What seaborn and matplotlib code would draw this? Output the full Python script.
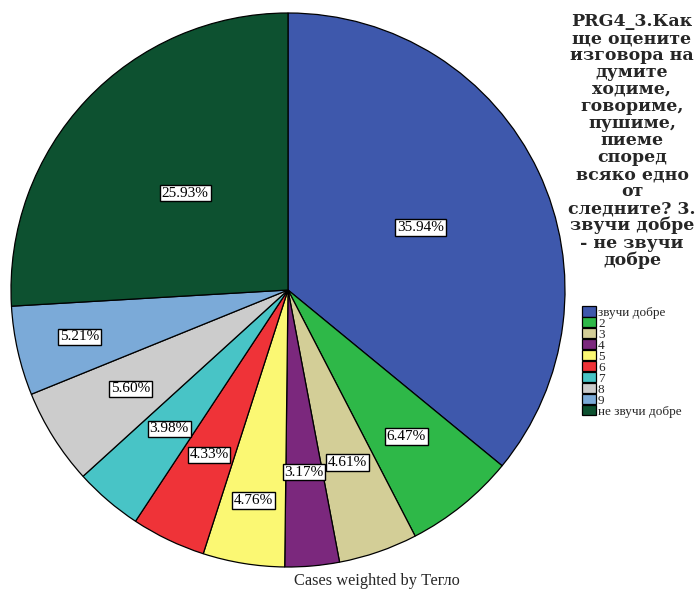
import numpy as np
import matplotlib
matplotlib.use("Agg")
import matplotlib.pyplot as plt
import seaborn as sns

categories = ["звучи добре", "2", "3", "4", "5", "6", "7", "8", "9", "не звучи добре"]
values = [35.94, 6.47, 4.61, 3.17, 4.76, 4.33, 3.98, 5.60, 5.21, 25.93]
colors = ["#3E58AC", "#2EB848", "#D3CE97", "#7B287D", "#FBF873",
          "#EF3338", "#48C4C6", "#CCCCCC", "#7BAAD8", "#0D5130"]
label_radius = [0.53, 0.68, 0.66, 0.66, 0.77, 0.66, 0.66, 0.67, 0.77, 0.51]

title = ("PRG4_3.Как\nще оцените\nизговора на\nдумите\nходиме,\nговориме,\n"
         "пушиме,\nпиеме\nспоред\nвсяко едно\nот\nследните? 3.\nзвучи добре\n- не звучи\nдобре")
footer = "Cases weighted by Тегло"

sns.set_theme(style="white")
plt.rcParams["font.family"] = ["Liberation Serif", "DejaVu Serif"]

W, H = 695, 589
fig = plt.figure(figsize=(W / 100, H / 100), dpi=100)
cx, cy, r = 288, 290, 277
ax = fig.add_axes([(cx - r) / W, (H - cy - r) / H, 2 * r / W, 2 * r / H])

palette = sns.color_palette(colors)
wedges, _ = ax.pie(values, colors=palette, startangle=90, counterclock=False,
                   radius=1.0, wedgeprops=dict(edgecolor="black", linewidth=0.9))
ax.set_xlim(-1, 1)
ax.set_ylim(-1, 1)
ax.set_aspect("equal")
ax.axis("off")

total = sum(values)
cum = 0.0
for v, lr in zip(values, label_radius):
    mid = 90 - 360 * (cum + v / 2) / total
    cum += v
    th = np.deg2rad(mid)
    ax.text(lr * np.cos(th), lr * np.sin(th), f"{v:.2f}%", ha="center", va="center",
            fontsize=11, color="black",
            bbox=dict(boxstyle="square,pad=0.12", facecolor="white", edgecolor="black", linewidth=1.0))

fig.text(632 / W, 1 - 13 / H, title, ha="center", va="top", fontsize=12.5,
         fontweight="bold", linespacing=1.0, family=["DejaVu Serif"])

fs = 9.5
fpx = fs * 100 / 72
leg = fig.legend(wedges, categories, loc="upper left", bbox_to_anchor=(582 / W, 1 - 306 / H),
                 frameon=False, fontsize=fs, handlelength=14 / fpx, handleheight=11.2 / fpx,
                 handletextpad=2 / fpx, labelspacing=-0.14, borderpad=0, borderaxespad=0)

fig.text(377 / W, 1 - 581 / H, footer, ha="center", va="center", fontsize=11.8)

fig.savefig("out.png", dpi=100)
